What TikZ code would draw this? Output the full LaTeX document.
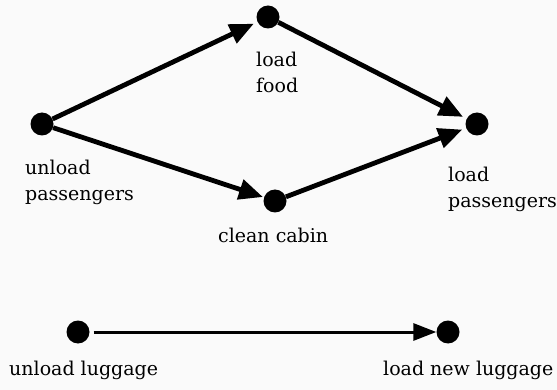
\documentclass[tikz,border=0pt]{standalone}
\usepackage{fontspec}
\setmainfont{DejaVu Serif}
\usetikzlibrary{arrows.meta}
\definecolor{paper}{RGB}{250,250,250}
\begin{document}
\begin{tikzpicture}[x=1pt,y=-1pt,
  event/.style={circle,fill=black,inner sep=0pt,minimum size=23pt},
  lbl/.style={anchor=base west,inner sep=0pt,align=left,
              font=\fontsize{19}{26.5}\selectfont},
  flow/.style={line width=4.8pt,-{Triangle[length=24pt,width=20pt]},
               shorten >=4pt},
  thinflow/.style={line width=3pt,-{Triangle[length=23pt,width=17pt]},
               shorten <=4pt}]
  % canvas
  \fill[paper] (0,0) rectangle (557,390);
  \useasboundingbox (0,0) rectangle (557,390);

  % events
  \node[event] (up) at (42,124) {};
  \node[event] (lf) at (268,17) {};
  \node[event] (cc) at (275,201) {};
  \node[event] (lp) at (477,124) {};
  \node[event] (ul) at (78,332) {};
  \node[event] (ln) at (448,332) {};

  % labels (anchored at the baseline of the last line)
  \node[lbl] (tup) at (25,201) {unload\\passengers};
  \node[lbl] (tlf) at (256,93) {load\\food};
  \node[lbl] (tcc) at (218,243) {clean cabin};
  \node[lbl] (tlp) at (448,208) {load\\passengers};
  \node[lbl] (tul) at (9,375) {unload luggage};
  \node[lbl] (tln) at (383,375) {load new luggage};

  % precedence arrows
  \draw[flow] (up) -- (lf);
  \draw[flow,shorten >=1pt] (up) -- (cc);
  \draw[flow] (lf) -- (lp);
  \draw[flow] (cc) -- (lp);
  \draw[thinflow] (ul) -- (ln);
\end{tikzpicture}
\end{document}
